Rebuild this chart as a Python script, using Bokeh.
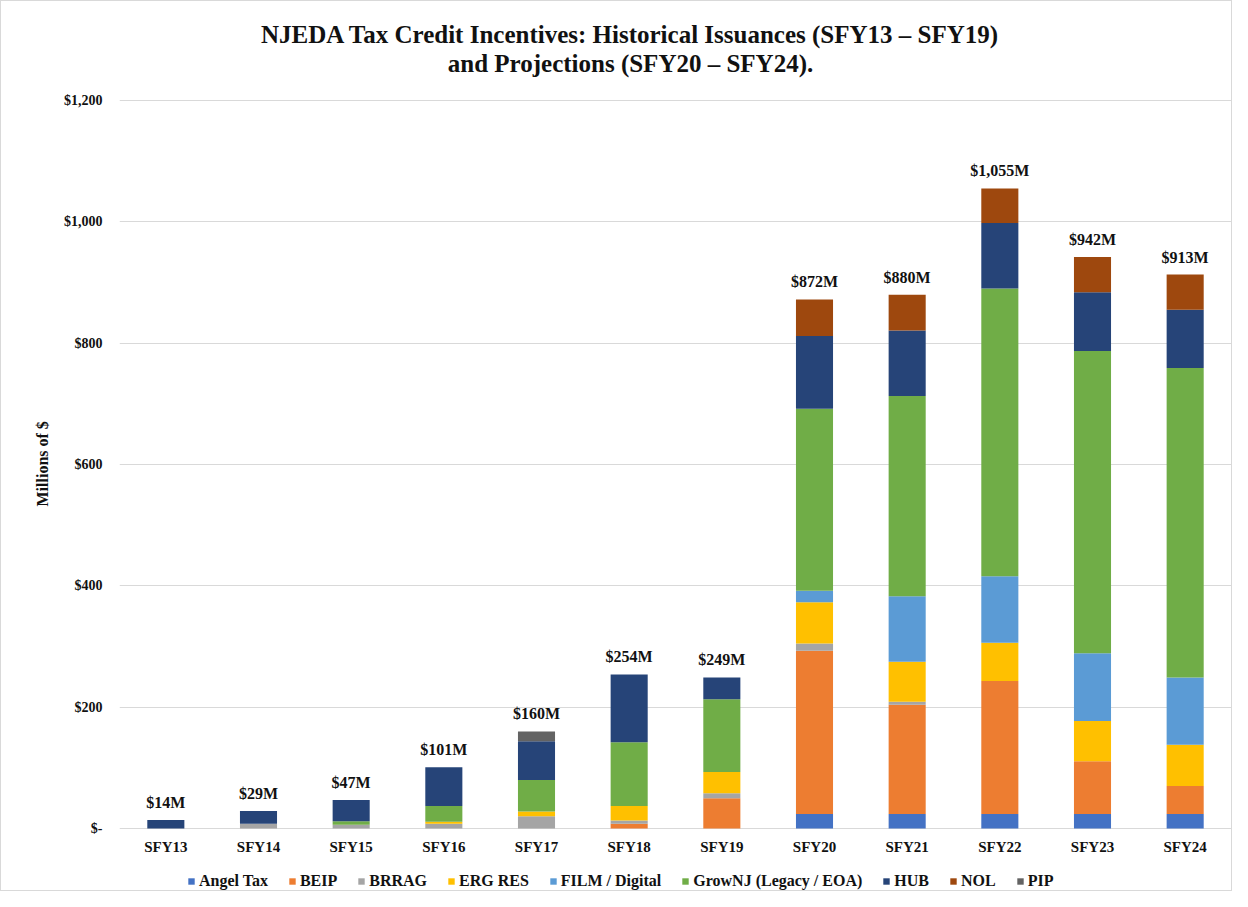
from bokeh.plotting import figure
from bokeh.models import (ColumnDataSource, FixedTicker, Legend, LegendItem, Title,
                          FactorRange, Range1d, Label)
from bokeh.core.properties import value
from bokeh.embed import file_html
from bokeh.resources import INLINE

years = ["SFY13", "SFY14", "SFY15", "SFY16", "SFY17", "SFY18", "SFY19",
         "SFY20", "SFY21", "SFY22", "SFY23", "SFY24"]

angel_tax = [0, 0, 0, 0, 0, 0, 0, 24, 24, 24, 24, 24]
beip      = [0, 0, 0, 0, 0, 8, 50, 269, 180, 219, 87, 46]
brrag     = [0, 8, 6, 8, 20, 5, 8, 12, 5, 0, 0, 0]
erg_res   = [0, 0, 0, 3, 8, 24, 35, 68, 66, 63, 66, 68]
film      = [0, 0, 0, 0, 0, 0, 0, 19, 108, 110, 112, 111]
grownj    = [0, 0, 6, 26, 52, 105, 120, 300, 330, 474, 498, 510]
hub       = [14, 21, 35, 64, 64, 112, 36, 120, 108, 108, 97, 96]
nol       = [0, 0, 0, 0, 0, 0, 0, 60, 59, 57, 58, 58]
pip       = [0, 0, 0, 0, 16, 0, 0, 0, 0, 0, 0, 0]

series_names = ["Angel Tax", "BEIP", "BRRAG", "ERG RES", "FILM / Digital",
                "GrowNJ (Legacy / EOA)", "HUB", "NOL", "PIP"]
series_keys = ["angel", "beip", "brrag", "erg", "film", "grownj", "hub", "nol", "pip"]
colors = ["#4472C4", "#ED7D31", "#A5A5A5", "#FFC000", "#5B9BD5",
          "#70AD47", "#264478", "#9E480E", "#636363"]

y_ticks = [0, 200, 400, 600, 800, 1000, 1200]

title_line1 = "NJEDA Tax Credit Incentives: Historical Issuances (SFY13 \u2013 SFY19)"
title_line2 = "and Projections (SFY20 \u2013 SFY24)."
y_title = "Millions of $"

series_values = [angel_tax, beip, brrag, erg_res, film, grownj, hub, nol, pip]
totals = [sum(v[i] for v in series_values) for i in range(len(years))]
total_labels = ["${:,}M".format(t) for t in totals]

data = {"years": years, "total": totals, "label": total_labels,
        "zero": [0] * len(years)}
for k, v in zip(series_keys, series_values):
    data[k] = v
source = ColumnDataSource(data)

FONT = "Liberation Serif"
TXT = "#111111"

# layout geometry (pixels)
W, H = 1232, 891
LEFT, RIGHT_B, TOP_B, BOTTOM_B = 118, 2, 0, 1
TOPVAL_PX = 99    # pixel row of the 1200 gridline
ZERO_PX = 827     # pixel row of the zero line
Y_MAX = 1200
frame_top = TOP_B
frame_bottom = H - BOTTOM_B
frame_h = frame_bottom - frame_top
px_per_unit = (ZERO_PX - TOPVAL_PX) / Y_MAX
y_start = -(frame_bottom - ZERO_PX) / px_per_unit
y_end = Y_MAX + (TOPVAL_PX - frame_top) / px_per_unit

p = figure(x_range=FactorRange(*years), y_range=Range1d(y_start, y_end),
           width=W, height=H, output_backend="svg", toolbar_location=None,
           title=None, min_border_left=LEFT, min_border_right=RIGHT_B,
           min_border_top=TOP_B, min_border_bottom=BOTTOM_B)
p.outline_line_color = None
p.background_fill_color = "white"
p.border_fill_color = "white"

renderers = p.vbar_stack(series_keys, x="years", width=0.4, color=colors,
                         line_color=None, source=source)

# totals above bars
p.text(x="years", y="total", text="label", source=source,
       text_align="center", text_baseline="bottom", y_offset=-9,
       text_font=value(FONT), text_font_style="bold",
       text_font_size="16px", text_color=TXT)

# category labels under the zero line
p.text(x="years", y="zero", text="years", source=source,
       text_align="center", text_baseline="top", y_offset=10,
       text_font=value(FONT), text_font_style="bold",
       text_font_size="15px", text_color=TXT)

# title: two centred lines
TITLE_CX = 629
for txt, row in ((title_line1, 33), (title_line2, 62)):
    p.add_layout(Label(x=TITLE_CX - LEFT, y=frame_bottom - row,
                       x_units="screen", y_units="screen", text=txt,
                       text_align="center", text_baseline="middle",
                       text_font=FONT, text_font_size="25px",
                       text_font_style="bold", text_color=TXT))

# axes
p.xaxis.visible = False

p.yaxis.ticker = FixedTicker(ticks=y_ticks)
p.yaxis.major_label_overrides = {t: ("$-" if t == 0 else "${:,}".format(t)) for t in y_ticks}
p.yaxis.axis_line_color = None
p.yaxis.major_tick_line_color = None
p.yaxis.minor_tick_line_color = None
p.yaxis.major_tick_out = 0
p.yaxis.major_tick_in = 0
p.yaxis.minor_tick_out = 0
p.yaxis.major_label_standoff = 17
p.yaxis.major_label_text_font = FONT
p.yaxis.major_label_text_font_style = "bold"
p.yaxis.major_label_text_font_size = "14px"
p.yaxis.major_label_text_color = TXT

ylab = Title(text=y_title, align="left", offset=frame_bottom - 505, standoff=19,
             text_font=FONT, text_font_size="16px", text_font_style="bold",
             text_color=TXT)
p.add_layout(ylab, "left")

p.xgrid.grid_line_color = None
p.ygrid.grid_line_color = "#D9D9D9"
p.ygrid.grid_line_width = 1

items = [LegendItem(label=n, renderers=[r]) for n, r in zip(series_names, renderers)]
legend = Legend(items=items, orientation="horizontal", location=(68, 1),
                label_text_font=FONT, label_text_font_style="bold",
                label_text_font_size="16px", label_text_color=TXT,
                glyph_width=8, glyph_height=8, label_standoff=4, spacing=20,
                border_line_color=None, background_fill_alpha=0,
                margin=0, padding=0)
p.add_layout(legend, "center")

p.styles = {"border": "1px solid #D9D9D9"}

open("out.html", "w").write(file_html(p, INLINE))
